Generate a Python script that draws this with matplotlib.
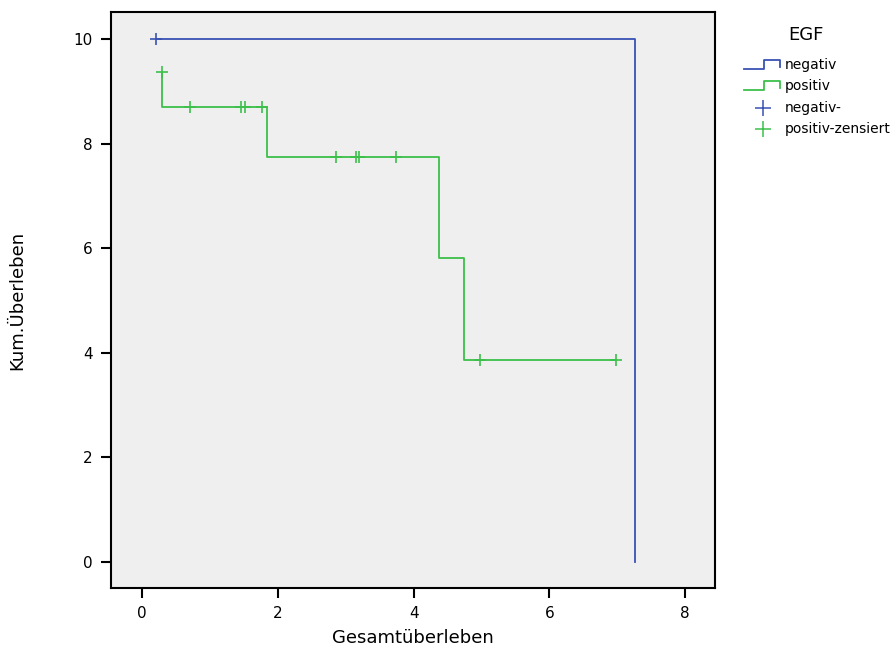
import matplotlib.pyplot as plt

# survival steps for each EGF group (time, cumulative survival)
neg_times = [0.21, 7.26, 7.26]
neg_surv = [10.0, 10.0, 0.0]
neg_cens_t = [0.21]
neg_cens_s = [10.0]

pos_times = [0.29, 0.29, 1.84, 1.84, 4.37, 4.37, 4.74, 4.74, 6.98]
pos_surv = [9.38, 8.71, 8.71, 7.74, 7.74, 5.81, 5.81, 3.87, 3.87]
pos_cens_t = [0.29, 0.71, 1.46, 1.51, 1.77, 2.86, 3.15, 3.20, 3.74, 4.98, 6.98]
pos_cens_s = [9.38, 8.71, 8.71, 8.71, 8.71, 7.74, 7.74, 7.74, 7.74, 3.87, 3.87]

legend_labels = ['negativ', 'positiv', 'negativ-', 'positiv-zensiert']

blue = '#3a52b4'
green = '#3cc04a'

fig = plt.figure(figsize=(8.96, 6.59), dpi=100)
ax = fig.add_axes([0.1239, 0.1077, 0.674, 0.874])
ax.set_facecolor('#efefef')

ax.plot(neg_times, neg_surv, color=blue, lw=1.3)
ax.plot(pos_times, pos_surv, color=green, lw=1.3)
ax.plot(neg_cens_t, neg_cens_s, ls='none', marker='+', ms=9, mew=1.2, color=blue)
ax.plot(pos_cens_t, pos_cens_s, ls='none', marker='+', ms=9, mew=1.2, color=green)

ax.set_xlim(-0.46, 8.44)
ax.set_ylim(-0.5, 10.52)
ax.set_xticks([0, 2, 4, 6, 8])
ax.set_yticks([0, 2, 4, 6, 8, 10])
ax.tick_params(direction='out', length=7, width=1.5, labelsize=11, pad=6)
for s in ax.spines.values():
    s.set_linewidth(1.5)

ax.set_xlabel('Gesamtüberleben', fontsize=13, labelpad=6)
ax.set_ylabel('Kum.Überleben', fontsize=13, labelpad=34)

# legend drawn by hand with step-shaped line icons
lg = fig.add_axes([0, 0, 1, 1], facecolor='none')
lg.set_xlim(0, 896)
lg.set_ylim(659, 0)
lg.axis('off')
lg.text(806, 35, 'EGF', fontsize=13, ha='center', va='center')
for y, c, lab in [(65, blue, legend_labels[0]), (86, green, legend_labels[1])]:
    lg.plot([744, 764, 764, 780, 780], [y + 4, y + 4, y - 5, y - 5, y + 2], color=c, lw=1.3)
    lg.text(785, y, lab, fontsize=10, va='center')
for y, c, lab in [(108, blue, legend_labels[2]), (129, green, legend_labels[3])]:
    lg.plot([763], [y], marker='+', ms=12, mew=1.1, color=c)
    lg.text(785, y, lab, fontsize=10, va='center')

fig.savefig('out.png', dpi=100)
